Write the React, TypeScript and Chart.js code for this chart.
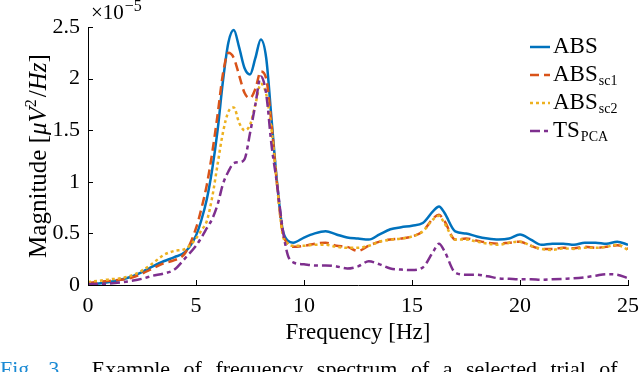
import React, { useEffect, useRef } from "react";
import { Chart, registerables } from "chart.js";

Chart.register(...registerables);

// ---- data (magnitudes in units of 1e-5 µV²/Hz) ----
const freqHz = [
  0, 0.5, 1, 1.5, 2, 2.5, 3, 3.5, 4, 4.5, 5, 5.25, 5.5, 5.75, 6, 6.25, 6.5, 6.75,
  7, 7.25, 7.5, 7.75, 8, 8.25, 8.5, 8.75, 9, 9.25, 9.5, 10, 10.5, 11, 11.5, 12,
  12.5, 13, 13.5, 14, 14.5, 15, 15.5, 16, 16.25, 16.5, 17, 17.5, 18, 18.5, 19,
  19.5, 20, 20.5, 21, 21.5, 22, 22.5, 23, 23.5, 24, 24.5, 25,
];

const absE5 = [
  0.01, 0.015, 0.03, 0.05, 0.08, 0.125, 0.18, 0.23, 0.27, 0.32, 0.48, 0.63, 0.83, 1.12,
  1.5, 1.98, 2.35, 2.47, 2.3, 2.1, 2.04, 2.2, 2.38, 2.2, 1.6, 1.0, 0.55, 0.43, 0.41,
  0.46, 0.5, 0.52, 0.49, 0.46, 0.45, 0.44, 0.49, 0.54, 0.56, 0.575, 0.6, 0.72, 0.76,
  0.7, 0.52, 0.5, 0.47, 0.45, 0.44, 0.45, 0.49, 0.44, 0.39, 0.4, 0.4, 0.39, 0.41,
  0.41, 0.4, 0.42, 0.39,
];

const absSc1E5 = [
  0.02, 0.03, 0.04, 0.05, 0.07, 0.11, 0.16, 0.21, 0.24, 0.31, 0.55, 0.74, 0.97, 1.28,
  1.65, 2.05, 2.25, 2.2, 2.03, 1.86, 1.81, 1.9, 2.07, 2.0, 1.55, 0.98, 0.52, 0.4, 0.37,
  0.38, 0.4, 0.41, 0.38, 0.37, 0.33, 0.38, 0.42, 0.44, 0.45, 0.47, 0.52, 0.65, 0.68,
  0.62, 0.44, 0.45, 0.43, 0.41, 0.4, 0.41, 0.42, 0.38, 0.35, 0.35, 0.36, 0.355, 0.37,
  0.36, 0.37, 0.385, 0.35,
];

const absSc2E5 = [
  0.03, 0.04, 0.055, 0.065, 0.09, 0.14, 0.21, 0.29, 0.33, 0.35, 0.45, 0.53, 0.62, 0.85,
  1.17, 1.48, 1.68, 1.72, 1.57, 1.5, 1.55, 1.75, 1.95, 1.85, 1.5, 0.98, 0.5, 0.4, 0.38,
  0.38, 0.39, 0.39, 0.37, 0.36, 0.36, 0.38, 0.42, 0.44, 0.45, 0.47, 0.52, 0.64, 0.67,
  0.6, 0.44, 0.44, 0.42, 0.4, 0.39, 0.41, 0.42, 0.38, 0.35, 0.34, 0.355, 0.35, 0.36,
  0.36, 0.37, 0.39, 0.34,
];

const tsPcaE5 = [
  0.01, 0.01, 0.015, 0.025, 0.04, 0.06, 0.09, 0.11, 0.15, 0.26, 0.38, 0.46, 0.55, 0.64,
  0.78, 0.98, 1.1, 1.18, 1.19, 1.22, 1.47, 1.75, 2.02, 1.85, 1.35, 0.98, 0.56, 0.29, 0.22,
  0.2, 0.19, 0.19, 0.18, 0.16, 0.18, 0.23, 0.2, 0.16, 0.15, 0.145, 0.17, 0.33, 0.4,
  0.33, 0.12, 0.1, 0.1, 0.085, 0.065, 0.06, 0.055, 0.055, 0.05, 0.055, 0.06, 0.065,
  0.075, 0.09, 0.105, 0.1, 0.065,
];

const xTicks = [0, 5, 10, 15, 20, 25];
const yTicks = [0, 0.5, 1, 1.5, 2, 2.5];

const seriesNames = ["ABS", "ABS", "ABS", "TS"];
const seriesSubs = ["", "sc1", "sc2", "PCA"];
const seriesColors = ["#0072BD", "#D95319", "#EDB120", "#7E2F8E"];
const seriesDashes: number[][] = [[], [9, 5], [3, 3], [10, 4, 4, 4]];

const FONT = "'Liberation Serif', 'DejaVu Serif', serif";

const overlayPlugin = {
  id: "overlay",
  afterDraw(chart: any) {
    const ctx: CanvasRenderingContext2D = chart.ctx;
    const { left, right, top, bottom } = chart.chartArea;
    const xs = chart.scales.x;
    const ys = chart.scales.y;
    ctx.save();
    // inward ticks
    ctx.strokeStyle = "#000";
    ctx.lineWidth = 1;
    ctx.setLineDash([]);
    xTicks.forEach((v) => {
      const px = Math.round(xs.getPixelForValue(v)) + 0.5;
      ctx.beginPath();
      ctx.moveTo(px, bottom);
      ctx.lineTo(px, bottom - 5);
      ctx.stroke();
    });
    yTicks.forEach((v) => {
      const py = Math.round(ys.getPixelForValue(v)) + 0.5;
      ctx.beginPath();
      ctx.moveTo(left, py);
      ctx.lineTo(left + 5, py);
      ctx.stroke();
    });

    ctx.fillStyle = "#000";
    ctx.textBaseline = "alphabetic";
    ctx.textAlign = "left";
    // exponent multiplier
    ctx.font = `21px ${FONT}`;
    ctx.fillText("×10", left + 3, 19);
    const wm = ctx.measureText("×10").width;
    ctx.font = `16px ${FONT}`;
    ctx.fillText("−5", left + 3 + wm + 1, 11);

    // x title
    ctx.font = `23px ${FONT}`;
    ctx.textAlign = "center";
    ctx.fillText("Frequency [Hz]", (left + right) / 2, 339);

    // y title (rotated, with math italic part)
    ctx.textAlign = "left";
    const parts = [
      { t: "Magnitude [", f: `25px ${FONT}`, dy: 0 },
      { t: "μV", f: `italic 25px ${FONT}`, dy: 0 },
      { t: "2", f: `16px ${FONT}`, dy: -10 },
      { t: "/", f: `25px ${FONT}`, dy: 0 },
      { t: "Hz", f: `italic 25px ${FONT}`, dy: 0 },
      { t: "]", f: `25px ${FONT}`, dy: 0 },
    ];
    let total = 0;
    const widths = parts.map((p) => {
      ctx.font = p.f;
      const w = ctx.measureText(p.t).width + (p.t === "2" ? 2 : 0);
      total += w;
      return w;
    });
    ctx.translate(46, (top + bottom) / 2);
    ctx.rotate(-Math.PI / 2);
    let cx = -total / 2;
    parts.forEach((p, i) => {
      ctx.font = p.f;
      ctx.fillText(p.t, cx, p.dy);
      cx += widths[i];
    });
    ctx.setTransform(1, 0, 0, 1, 0, 0);

    // legend
    const rowY = [47, 75, 103, 131];
    rowY.forEach((y, i) => {
      ctx.strokeStyle = seriesColors[i];
      ctx.lineWidth = 2.5;
      ctx.setLineDash(seriesDashes[i]);
      ctx.beginPath();
      ctx.moveTo(530, y);
      ctx.lineTo(550, y);
      ctx.stroke();
      ctx.setLineDash([]);
      ctx.fillStyle = "#000";
      ctx.font = `23px ${FONT}`;
      ctx.textAlign = "left";
      ctx.fillText(seriesNames[i], 553, y + 6);
      const w = ctx.measureText(seriesNames[i]).width;
      if (seriesSubs[i]) {
        ctx.font = `14px ${FONT}`;
        ctx.fillText(seriesSubs[i], 553 + w + 1, y + 10);
      }
    });
    ctx.restore();
  },
};

export default function App() {
  const canvasRef = useRef<HTMLCanvasElement | null>(null);

  useEffect(() => {
    const canvas = canvasRef.current;
    if (!canvas) return;
    const seriesData = [absE5, absSc1E5, absSc2E5, tsPcaE5];
    const chart = new Chart(canvas, {
      type: "line",
      data: {
        datasets: seriesData.map((arr, i) => ({
          label: seriesNames[i] + seriesSubs[i],
          data: freqHz.map((f, k) => ({ x: f, y: arr[k] })),
          borderColor: seriesColors[i],
          borderWidth: 2.5,
          borderDash: seriesDashes[i],
          pointRadius: 0,
          fill: false,
          cubicInterpolationMode: "monotone" as const,
          order: 3 - i,
        })),
      },
      options: {
        responsive: false,
        animation: false,
        devicePixelRatio: 1,
        layout: { padding: { top: 27, right: 0, left: 0, bottom: 0 } },
        plugins: { legend: { display: false }, tooltip: { enabled: false } },
        scales: {
          x: {
            type: "linear",
            min: 0,
            max: 25,
            afterFit: (s: any) => {
              s.height = 87;
              s.paddingLeft = 0;
              s.paddingRight = 12;
            },
            afterBuildTicks: (s: any) => {
              s.ticks = xTicks.map((v) => ({ value: v }));
            },
            ticks: {
              color: "#000",
              font: { family: FONT, size: 22 },
              padding: 8,
              maxRotation: 0,
              autoSkip: false,
              callback: (v: any) => String(v),
            },
            grid: { display: true, drawOnChartArea: false, drawTicks: false },
            border: { display: true, color: "#000", width: 1 },
          },
          y: {
            type: "linear",
            min: 0,
            max: 2.5,
            afterFit: (s: any) => {
              s.width = 88;
              s.paddingTop = 0;
              s.paddingBottom = 0;
            },
            afterBuildTicks: (s: any) => {
              s.ticks = yTicks.map((v) => ({ value: v }));
            },
            ticks: {
              color: "#000",
              font: { family: FONT, size: 22 },
              padding: 8,
              autoSkip: false,
              callback: (v: any) => String(v),
            },
            grid: { display: true, drawOnChartArea: false, drawTicks: false },
            border: { display: true, color: "#000", width: 1 },
          },
        },
      },
      plugins: [overlayPlugin],
    });
    return () => chart.destroy();
  }, []);

  return (
    <div style={{ position: "absolute", left: 0, top: 0, width: 640, height: 372, overflow: "hidden", background: "#fff" }}>
      <canvas ref={canvasRef} width={640} height={372} style={{ position: "absolute", left: 0, top: 0 }} />
      <div
        style={{
          position: "absolute",
          left: 0,
          top: 358,
          fontFamily: FONT,
          fontSize: 22,
          lineHeight: "22px",
          whiteSpace: "nowrap",
          color: "#000",
          wordSpacing: 8,
        }}
      >
        <span style={{ color: "#1a8ad4" }}>Fig. 3.</span>&nbsp;&nbsp;Example of frequency spectrum of a selected trial of
      </div>
    </div>
  );
}
